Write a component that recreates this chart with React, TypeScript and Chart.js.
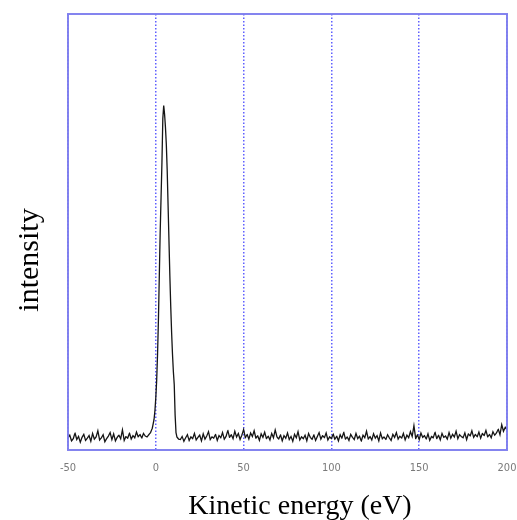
import React, { useEffect, useRef } from "react";
import { Chart, registerables } from "chart.js";

Chart.register(...registerables);

// Axis settings / tick labels
const xMin = -50;
const xMax = 200;
const xStep = 50;
const xTitle = "Kinetic energy (eV)";
const yTitle = "intensity";

// Baseline noise left of the peak, 1 eV spacing starting at -50 eV
const leftStart = -50;
const leftNoise = [
  2.8, 3.4, 2.1, 2.6, 3.9, 2.4, 3.1, 1.8, 2.9, 3.6,
  2.2, 2.7, 3.3, 2.0, 3.8, 2.5, 3.0, 4.4, 2.3, 2.8,
  3.5, 1.9, 2.6, 3.2, 4.0, 2.4, 3.7, 2.1, 2.9, 3.4,
  2.6, 4.6, 2.2, 3.1, 2.7, 3.9, 2.5, 3.3, 2.8, 4.1,
  3.0, 3.6, 2.7, 3.8, 3.2,
];

// Peak region (eV, intensity)
const peakEnergy = [
  -5, -4, -3, -2, -1, -0.5, 0, 0.5, 1, 1.5, 2, 2.5, 3, 3.5, 4, 4.5, 5, 5.5, 6,
  6.5, 7, 7.5, 8, 8.5, 9, 9.5, 10, 10.5, 11, 11.5, 12, 13,
];
const peakValues = [
  3.0, 3.5, 4.0, 5.0, 7.0, 9.0, 12, 16, 22, 30, 40, 50, 58, 66, 76, 79, 77, 74, 70,
  64, 56, 48, 40, 33, 27, 22, 18, 15, 8, 4, 3.0, 2.5,
];

// Baseline noise right of the peak, 1 eV spacing starting at 14 eV
const rightStart = 14;
const rightNoise = [
  2.4, 3.1, 2.0, 2.8, 3.5, 2.2, 3.0, 2.6, 3.8, 2.3,
  2.9, 3.4, 2.1, 3.7, 2.5, 3.2, 4.2, 2.4, 3.0, 2.7,
  3.6, 2.2, 3.3, 2.8, 4.0, 2.5, 3.1, 4.5, 2.9, 3.5,
  2.6, 4.3, 3.0, 3.8, 2.4, 3.4, 4.7, 2.8, 3.6, 2.5,
  3.9, 3.1, 4.4, 2.7, 3.3, 2.2, 3.7, 2.9, 4.1, 2.6,
  3.2, 2.3, 3.8, 2.8, 4.6, 3.0, 2.5, 3.5, 2.1, 3.3,
  2.7, 3.9, 2.4, 3.1, 2.0, 3.6, 2.8, 4.2, 2.3, 3.0,
  2.6, 3.4, 2.1, 3.8, 2.9, 2.4, 3.5, 2.2, 3.1, 4.0,
  2.5, 3.3, 2.8, 3.9, 2.3, 3.0, 2.6, 3.7, 2.4, 3.2,
  2.1, 3.5, 2.7, 4.1, 2.5, 3.0, 2.2, 3.6, 2.9, 2.4,
  3.8, 2.6, 3.2, 2.0, 3.4, 2.8, 4.3, 2.5, 3.1, 2.3,
  3.7, 2.7, 3.3, 2.1, 3.9, 2.6, 3.0, 2.4, 3.5, 2.8,
  2.2, 3.6, 2.9, 4.0, 2.5, 3.2, 2.7, 3.8, 2.3, 3.4,
  2.8, 4.2, 3.1, 5.6, 2.6, 3.5, 2.4, 3.9, 2.9, 3.3,
  2.5, 3.7, 2.2, 3.1, 2.8, 4.1, 2.6, 3.4, 2.3, 3.8,
  2.9, 3.2, 2.5, 4.0, 2.7, 3.6, 3.0, 4.3, 2.6, 3.5,
  3.1, 2.8, 3.9, 2.4, 3.7, 3.2, 4.4, 2.9, 3.6, 3.0,
  4.1, 2.7, 3.8, 3.3, 4.5, 3.0, 3.6, 2.8, 4.2, 3.4,
  3.9, 4.8, 3.5, 5.8, 4.3, 5.2, 4.6,
];

const buildPoints = () => {
  const pts: { x: number; y: number }[] = [];
  leftNoise.forEach((v, i) => pts.push({ x: leftStart + i, y: v }));
  peakEnergy.forEach((e, i) => pts.push({ x: e, y: peakValues[i] }));
  rightNoise.forEach((v, i) => pts.push({ x: rightStart + i, y: v }));
  return pts;
};

const frameAndTitles = {
  id: "frameAndTitles",
  afterDraw(chart: any) {
    const { ctx, chartArea } = chart;
    const { left, right, top, bottom } = chartArea;
    ctx.save();
    ctx.strokeStyle = "rgba(125,125,238,0.95)";
    ctx.lineWidth = 2;
    ctx.strokeRect(left, top, right - left, bottom - top);
    ctx.fillStyle = "#000";
    ctx.font = '28px "Liberation Serif", "Times New Roman", serif';
    ctx.textAlign = "center";
    ctx.textBaseline = "alphabetic";
    ctx.fillText(xTitle, 300, 514);
    ctx.translate(38, 260);
    ctx.rotate(-Math.PI / 2);
    ctx.font = '30px "Liberation Serif", "Times New Roman", serif';
    ctx.fillText(yTitle, 0, 0);
    ctx.restore();
  },
};

export default function App() {
  const ref = useRef<HTMLCanvasElement | null>(null);
  useEffect(() => {
    document.body.style.margin = "0";
    const canvas = ref.current;
    if (!canvas) return;
    const chart = new Chart(canvas, {
      type: "line",
      data: {
        datasets: [
          {
            data: buildPoints(),
            borderColor: "#151515",
            borderWidth: 1.3,
            pointRadius: 0,
            tension: 0.0001,
            fill: false,
          },
        ],
      },
      options: {
        animation: false,
        responsive: false,
        maintainAspectRatio: false,
        layout: { padding: { left: 68, top: 14, right: 10, bottom: 0 } },
        plugins: {
          legend: { display: false },
          tooltip: { enabled: false },
        },
        scales: {
          x: {
            type: "linear",
            min: xMin,
            max: xMax,
            afterFit: (s: any) => {
              s.height = 70;
              s.paddingLeft = 0;
              s.paddingRight = 0;
            },
            ticks: {
              stepSize: xStep,
              color: "#7a7a7a",
              padding: 12,
              font: { size: 11, family: "DejaVu Sans Condensed, sans-serif" },
            },
            grid: {
              color: "rgb(95,95,255)",
              lineWidth: 1.5,
              drawTicks: false,
            },
            border: { display: false, dash: [1.5, 2] },
          },
          y: {
            display: false,
            min: 0,
            max: 100,
          },
        },
      },
      plugins: [frameAndTitles],
    } as any);
    return () => chart.destroy();
  }, []);
  return <canvas ref={ref} width={517} height={520} style={{ display: "block" }} />;
}
